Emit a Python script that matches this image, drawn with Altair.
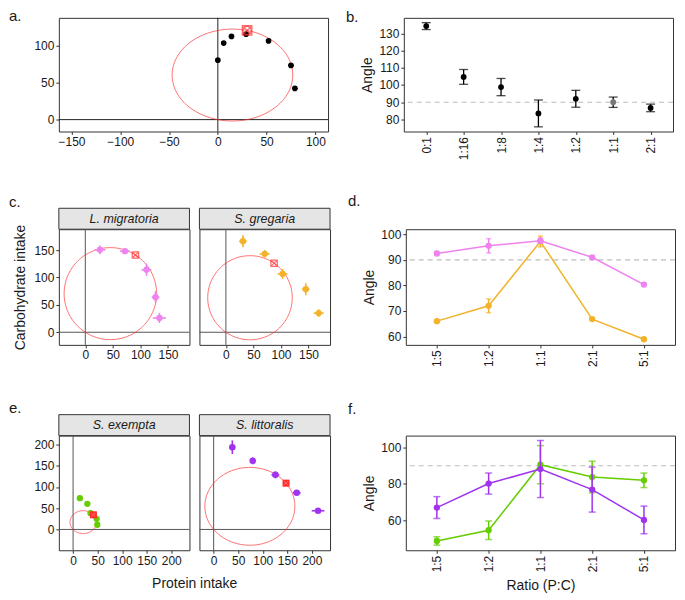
import altair as alt
import pandas as pd
import numpy as np

FONT = "Liberation Sans"
INK = "#1a1a1a"

# ---------------- data ----------------
# panel a: intake points (protein, carbohydrate)
a_x = [0, 6, 14, 29, 52, 75, 79]
a_y = [80, 103, 112, 115, 106, 73, 42]
a_xerr = [1, 1.5, 2, 2, 2, 3, 3]
a_yerr = [2, 2, 2, 2, 3, 2, 2]
a_target = [30, 120]

# panel b: angles per ratio
b_ratio = ["0:1", "1:16", "1:8", "1:4", "1:2", "1:1", "2:1"]
b_angle = [134.2, 104.7, 98.8, 83.5, 92.0, 90.0, 86.7]
b_err = [2.0, 4.3, 5.0, 7.8, 4.9, 3.0, 2.2]
b_fill = ["black", "black", "black", "black", "black", "#777777", "black"]

# panel c
lm_name = "L. migratoria"
lm_x = [26.5, 72, 111, 127.5, 134.5]
lm_y = [150.5, 148, 114, 64, 26]
lm_xerr = [10, 9, 9, 7, 12]
lm_yerr = [8, 5, 11, 11, 9]
lm_target = [91, 141]

sg_name = "S. gregaria"
sg_x = [31, 70.5, 103, 145, 168.5]
sg_y = [166, 143, 106.5, 78.5, 35]
sg_xerr = [7, 9, 9, 7, 9]
sg_yerr = [11, 7, 9, 11, 7]
sg_target = [87.5, 126]

# panel e
se_name = "S. exempta"
se_x = [13.8, 29, 35.5, 48, 49.3]
se_y = [73.6, 60.4, 38.4, 25, 11]
se_xerr = [1, 1, 1, 1, 1]
se_yerr = [1, 1, 1, 1, 1]
se_target = [41.4, 34.5]

sl_name = "S. littoralis"
sl_x = [38, 79.6, 125.7, 169.1, 212.6]
sl_y = [193.6, 161.6, 128.6, 86.3, 44]
sl_xerr = [2, 3, 8, 8, 13]
sl_yerr = [16, 8, 8, 3, 2]
sl_target = [147.4, 109]

# panels d, f
pc_ratio = ["1:5", "1:2", "1:1", "2:1", "5:1"]
d_lm = [92.5, 95.5, 97.5, 91.0, 80.3]
d_lm_err = [0.8, 2.8, 1.0, 0.5, 0.5]
d_sg = [66.0, 72.0, 97.2, 66.8, 58.9]
d_sg_err = [0.5, 2.7, 2.1, 0.5, 0.5]
f_se = [48.6, 54.5, 90.6, 83.8, 82.0]
f_se_err = [2.3, 5.1, 10.5, 8.7, 4.0]
f_sl = [67.0, 80.2, 88.2, 76.9, 60.2]
f_sl_err = [6.0, 5.8, 15.7, 12.4, 7.6]

PINK = "#EE82EE"
ORANGE = "#F3B22C"
GREEN = "#66CD00"
PURPLE = "#A033F0"
RED = "#FF2A2A"

LW = 270   # left plot width
RW = 270   # right plot width
H1, H2, H3 = 114, 116, 115
FW = 131   # facet width
STRIP = 21
LDX = -50
RDX = -58
TOFF = -2


def label_title(text, dx, offset):
    return alt.Title(text, anchor="start", frame="group", dx=dx, offset=offset,
                     font=FONT, fontSize=15, fontWeight="normal", color=INK)


def circle_df(target, n=181):
    cx, cy = target[0] / 2.0, target[1] / 2.0
    r = float(np.hypot(cx, cy))
    t = np.linspace(0, 2 * np.pi, n)
    return pd.DataFrame({"x": cx + r * np.cos(t), "y": cy + r * np.sin(t), "o": np.arange(n)})


def scatter_layers(xs, ys, xerr, yerr, target, color, xsc, ysc, xax, yax,
                   zero_color, psize, msize, err_w, marker="cross"):
    df = pd.DataFrame({
        "x": xs, "y": ys,
        "xlo": [v - e for v, e in zip(xs, xerr)], "xhi": [v + e for v, e in zip(xs, xerr)],
        "ylo": [v - e for v, e in zip(ys, yerr)], "yhi": [v + e for v, e in zip(ys, yerr)],
    })
    X = lambda f: alt.X(f, type="quantitative", scale=xsc, axis=xax)
    Y = lambda f: alt.Y(f, type="quantitative", scale=ysc, axis=yax)
    base = alt.Chart(df)
    vzero = alt.Chart(pd.DataFrame({"v": [0]})).mark_rule(color=zero_color, strokeWidth=1).encode(
        x=alt.X("v:Q", scale=xsc, axis=xax))
    hzero = alt.Chart(pd.DataFrame({"v": [0]})).mark_rule(color=zero_color, strokeWidth=1).encode(
        y=alt.Y("v:Q", scale=ysc, axis=yax))
    circ = alt.Chart(circle_df(target)).mark_line(color=RED, strokeWidth=0.9, opacity=0.75).encode(
        x=X("x"), y=Y("y"), order="o:Q")
    herr = base.mark_rule(color=color, strokeWidth=err_w).encode(x=X("xlo"), x2="xhi:Q", y=Y("y"))
    verr = base.mark_rule(color=color, strokeWidth=err_w).encode(x=X("x"), y=Y("ylo"), y2="yhi:Q")
    pts = base.mark_circle(color=color, size=psize, opacity=1).encode(x=X("x"), y=Y("y"))
    tdf = pd.DataFrame({"x": [target[0]], "y": [target[1]]})
    tbase = alt.Chart(tdf)
    layers = [vzero, hzero, circ, herr, verr, pts]
    if marker == "filled":
        layers.append(tbase.mark_point(shape="square", size=msize, color=RED, filled=True, opacity=1).encode(
            x=X("x"), y=Y("y")))
        layers.append(tbase.mark_point(shape="M-0.6,-0.6L0.6,0.6M-0.6,0.6L0.6,-0.6", size=msize,
                                       color="#ff9a9a", filled=False, strokeWidth=0.8).encode(
            x=X("x"), y=Y("y")))
    else:
        layers.append(tbase.mark_point(shape="square", size=msize, color=RED, filled=False,
                                       strokeWidth=1.3).encode(x=X("x"), y=Y("y")))
        layers.append(tbase.mark_point(shape="M-0.8,-0.8L0.8,0.8M-0.8,0.8L0.8,-0.8", size=msize,
                                       color=RED, filled=False, strokeWidth=1.1).encode(x=X("x"), y=Y("y")))
        if marker == "cross_circle":
            layers.append(tbase.mark_point(shape="circle", size=msize * 0.75, color=RED, filled=False,
                                           strokeWidth=1.1).encode(x=X("x"), y=Y("y")))
    return layers


def strip_layers(name, width):
    sdf = pd.DataFrame({"species": [name]})
    rect = alt.Chart(sdf).mark_rect(fill="#E5E5E5", stroke="#333333", strokeWidth=1).encode(
        x=alt.value(0), x2=alt.value(width), y=alt.value(-STRIP), y2=alt.value(0))
    txt = alt.Chart(sdf).mark_text(font=FONT, fontSize=12.5, fontStyle="italic", color=INK,
                                   baseline="middle", align="center").encode(
        text="species:N", x=alt.value(width / 2.0), y=alt.value(-STRIP / 2.0))
    return [rect, txt]


# ---------------- panel a ----------------
xsc_a = alt.Scale(domain=[-163, 113], nice=False, zero=False)
ysc_a = alt.Scale(domain=[-16, 137], nice=False, zero=False)
xax_a = alt.Axis(values=[-150, -100, -50, 0, 50, 100], title=None)
yax_a = alt.Axis(values=[0, 50, 100], title=None)
panel_a = alt.layer(*scatter_layers(a_x, a_y, a_xerr, a_yerr, a_target, "black", xsc_a, ysc_a,
                                    xax_a, yax_a, "#222222", 32, 90, 1.2, marker="cross_circle")).properties(
    width=LW, height=H1, title=label_title("a.", LDX, -7))

# ---------------- panel b ----------------
bdf = pd.DataFrame({"ratio": b_ratio, "angle": b_angle, "fill": b_fill,
                    "lo": [v - e for v, e in zip(b_angle, b_err)],
                    "hi": [v + e for v, e in zip(b_angle, b_err)]})
xsc_b = alt.Scale(type="point", padding=0.6)
ysc_b = alt.Scale(domain=[73, 139], nice=False, zero=False)
xax_b = alt.Axis(title=None, labelAngle=270)
yax_b = alt.Axis(values=[80, 90, 100, 110, 120, 130], title="Angle", titlePadding=4)
XB = alt.X("ratio:N", sort=b_ratio, scale=xsc_b, axis=xax_b)
bbase = alt.Chart(bdf)
b_ref = alt.Chart(pd.DataFrame({"v": [90]})).mark_rule(color="#BDBDBD", strokeDash=[5, 4], strokeWidth=1.1).encode(
    y=alt.Y("v:Q", scale=ysc_b, axis=yax_b))
b_rule = bbase.mark_rule(color="black", strokeWidth=1.3).encode(
    x=XB, y=alt.Y("lo:Q", scale=ysc_b, axis=yax_b), y2="hi:Q")
b_tlo = bbase.mark_tick(color="black", size=9, thickness=1.3, orient="horizontal").encode(
    x=XB, y=alt.Y("lo:Q", scale=ysc_b, axis=yax_b))
b_thi = bbase.mark_tick(color="black", size=9, thickness=1.3, orient="horizontal").encode(
    x=XB, y=alt.Y("hi:Q", scale=ysc_b, axis=yax_b))
b_pts = bbase.mark_circle(size=34, opacity=1).encode(
    x=XB, y=alt.Y("angle:Q", scale=ysc_b, axis=yax_b), color=alt.Color("fill:N", scale=None))
panel_b = alt.layer(b_ref, b_rule, b_tlo, b_thi, b_pts).properties(
    width=RW, height=H1, title=label_title("b.", RDX, -7))

# ---------------- panel c ----------------
xsc_c = alt.Scale(domain=[-48, 189], nice=False, zero=False)
ysc_c = alt.Scale(domain=[-23, 188], nice=False, zero=False)
xax_c = alt.Axis(values=[0, 50, 100, 150], title=None)
yax_c = alt.Axis(values=[0, 50, 100, 150], title="Carbohydrate intake", titlePadding=6)
yax_c2 = alt.Axis(values=[0, 50, 100, 150], title=None, labels=False, ticks=False)
c1 = alt.layer(*strip_layers(lm_name, FW),
               *scatter_layers(lm_x, lm_y, lm_xerr, lm_yerr, lm_target, PINK, xsc_c, ysc_c,
                               xax_c, yax_c, "#555555", 40, 40, 1.6)).properties(
    width=FW, height=H2, title=label_title("c.", LDX, TOFF))
c2 = alt.layer(*strip_layers(sg_name, FW),
               *scatter_layers(sg_x, sg_y, sg_xerr, sg_yerr, sg_target, ORANGE, xsc_c, ysc_c,
                               xax_c, yax_c2, "#555555", 40, 40, 1.6)).properties(
    width=FW, height=H2)
row_c = alt.hconcat(c1, c2, spacing=8)

# ---------------- panel d ----------------
xsc_p = alt.Scale(type="point", padding=0.6)
xax_d = alt.Axis(title=None, labelAngle=270)
ysc_d = alt.Scale(domain=[56.7, 102], nice=False, zero=False)
yax_d = alt.Axis(values=[60, 70, 80, 90, 100], title="Angle", titlePadding=4)


def ratio_layers(vals, errs, color, ysc, yax, xax, cap, lw):
    df = pd.DataFrame({"ratio": pc_ratio, "angle": vals,
                       "lo": [v - e for v, e in zip(vals, errs)],
                       "hi": [v + e for v, e in zip(vals, errs)]})
    X = alt.X("ratio:N", sort=pc_ratio, scale=xsc_p, axis=xax)
    base = alt.Chart(df)
    line = base.mark_line(color=color, strokeWidth=lw).encode(x=X, y=alt.Y("angle:Q", scale=ysc, axis=yax))
    rule = base.mark_rule(color=color, strokeWidth=lw).encode(
        x=X, y=alt.Y("lo:Q", scale=ysc, axis=yax), y2="hi:Q")
    tlo = base.mark_tick(color=color, size=cap, thickness=lw, orient="horizontal").encode(
        x=X, y=alt.Y("lo:Q", scale=ysc, axis=yax))
    thi = base.mark_tick(color=color, size=cap, thickness=lw, orient="horizontal").encode(
        x=X, y=alt.Y("hi:Q", scale=ysc, axis=yax))
    pts = base.mark_circle(color=color, size=40, opacity=1).encode(
        x=X, y=alt.Y("angle:Q", scale=ysc, axis=yax))
    return [line, rule, tlo, thi, pts]


d_ref = alt.Chart(pd.DataFrame({"v": [90]})).mark_rule(color="#BDBDBD", strokeDash=[5, 4], strokeWidth=1.1).encode(
    y=alt.Y("v:Q", scale=ysc_d, axis=yax_d))
panel_d = alt.layer(d_ref,
                    *ratio_layers(d_sg, d_sg_err, ORANGE, ysc_d, yax_d, xax_d, 5, 1.5),
                    *ratio_layers(d_lm, d_lm_err, PINK, ysc_d, yax_d, xax_d, 5, 1.5)).properties(
    width=RW, height=H2, title=label_title("d.", RDX, TOFF + STRIP))

# ---------------- panel e ----------------
xsc_e = alt.Scale(domain=[-29, 237], nice=False, zero=False)
ysc_e = alt.Scale(domain=[-49, 221], nice=False, zero=False)
xax_e = alt.Axis(values=[0, 50, 100, 150, 200], title=None)
yax_e = alt.Axis(values=[0, 50, 100, 150, 200], title=None)
yax_e2 = alt.Axis(values=[0, 50, 100, 150, 200], title=None, labels=False, ticks=False)
e1 = alt.layer(*strip_layers(se_name, FW),
               *scatter_layers(se_x, se_y, se_xerr, se_yerr, se_target, GREEN, xsc_e, ysc_e,
                               xax_e, yax_e, "#555555", 40, 50, 1.6, marker="filled")).properties(
    width=FW, height=H3, title=label_title("e.", LDX, TOFF))
e2 = alt.layer(*strip_layers(sl_name, FW),
               *scatter_layers(sl_x, sl_y, sl_xerr, sl_yerr, sl_target, PURPLE, xsc_e, ysc_e,
                               xax_e, yax_e2, "#555555", 44, 50, 1.6, marker="filled")).properties(
    width=FW, height=H3)
row_e = alt.hconcat(e1, e2, spacing=8, title=alt.Title(
    "Protein intake", orient="bottom", anchor="middle", dx=25, offset=10,
    font=FONT, fontSize=14, fontWeight="normal", color=INK))

# ---------------- panel f ----------------
ysc_f = alt.Scale(domain=[43.5, 106.6], nice=False, zero=False)
yax_f = alt.Axis(values=[60, 80, 100], title="Angle", titlePadding=4)
xax_f = alt.Axis(title="Ratio (P:C)", labelAngle=270, titlePadding=7)
f_ref = alt.Chart(pd.DataFrame({"v": [90]})).mark_rule(color="#BDBDBD", strokeDash=[5, 4], strokeWidth=1.1).encode(
    y=alt.Y("v:Q", scale=ysc_f, axis=yax_f))
panel_f = alt.layer(f_ref,
                    *ratio_layers(f_se, f_se_err, GREEN, ysc_f, yax_f, xax_f, 7, 1.5),
                    *ratio_layers(f_sl, f_sl_err, PURPLE, ysc_f, yax_f, xax_f, 7, 1.5)).properties(
    width=RW, height=H3, title=label_title("f.", RDX, TOFF + STRIP))

row1 = alt.hconcat(panel_a, panel_b, spacing=16)
row2 = alt.hconcat(row_c, panel_d, spacing=16)
row3 = alt.hconcat(row_e, panel_f, spacing=16)

chart = alt.vconcat(row1, row2, row3, spacing=33).properties(
    padding={"left": 0, "top": 0, "right": 0, "bottom": 0}
).configure_view(
    stroke="#333333", strokeWidth=1
).configure_axis(
    grid=False, domain=False, tickColor="#333333", tickSize=3,
    labelFont=FONT, labelFontSize=12, labelColor=INK, labelPadding=2,
    titleFont=FONT, titleFontSize=14, titleFontWeight="normal", titleColor=INK
).configure_title(font=FONT, fontSize=15, fontWeight="normal", color=INK)

chart.save("out.html", embed_options={"renderer": "svg", "actions": False})
